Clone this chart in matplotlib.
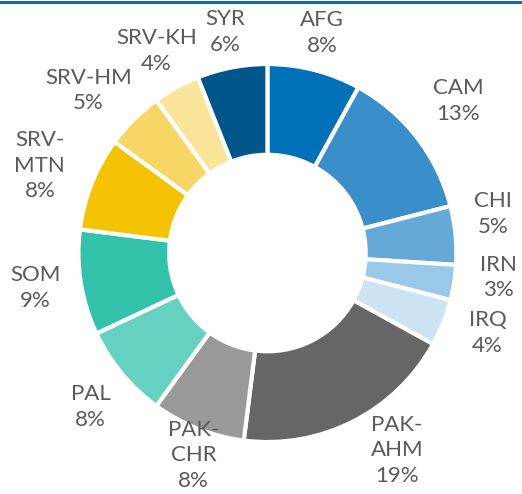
import numpy as np
import matplotlib
matplotlib.use("Agg")
import matplotlib.pyplot as plt
from matplotlib.patches import Rectangle

# -----------------------------
# Data
# -----------------------------
labels = ["AFG", "CAM", "CHI", "IRN", "IRQ", "PAK-\nAHM", "PAK-\nCHR",
          "PAL", "SOM", "SRV-\nMTN", "SRV-HM", "SRV-KH", "SYR"]
shares = [8, 13, 5, 3, 4, 19, 8, 8, 9, 8, 5, 4, 6]
colors = ["#0070b8", "#3a8fcb", "#64a9d8", "#9ac8e8", "#cbe3f3",
          "#666666", "#999999", "#66d1c1", "#33c3ad", "#f5c200",
          "#f8d666", "#fae499", "#00558a"]

# label layout: radial distance and angle nudge (degrees)
label_r = [1.20, 1.29, 1.21, 1.23, 1.24, 1.25, 1.14, 1.24, 1.24, 1.29, 1.28, 1.22, 1.19]
label_dang = [0.4, 0.7, 4.5, 3, 1.6, 6.3, 1.6, 1.4, -0.4, 0.6, 2.8, 0, 0]

plt.rcParams["font.family"] = ["Lato", "DejaVu Sans"]

fig = plt.figure(figsize=(5.22, 4.94), dpi=100)
ax = fig.add_axes([0, 0, 1, 1])

wedges, _ = ax.pie(shares, colors=colors, startangle=90, counterclock=False,
                   radius=1.0,
                   wedgeprops=dict(width=0.48, edgecolor="white", linewidth=3))

for w, lab, v, r, da in zip(wedges, labels, shares, label_r, label_dang):
    ang = np.deg2rad((w.theta1 + w.theta2) / 2 + da)
    ax.text(r * np.cos(ang), r * np.sin(ang), f"{lab}\n{v}%",
            ha="center", va="center", multialignment="center",
            fontsize=16, color="#5a5a5a", linespacing=1.35)

ax.set_xlim(-1.415, 1.347)
ax.set_ylim(-1.275, 1.339)
ax.axis("off")

# blue rule at the top
fig.add_artist(Rectangle((0, 1 - 4 / 494), 1, 3 / 494, transform=fig.transFigure,
                         color="#0072bc", lw=0))

fig.savefig("out.png", dpi=100)
